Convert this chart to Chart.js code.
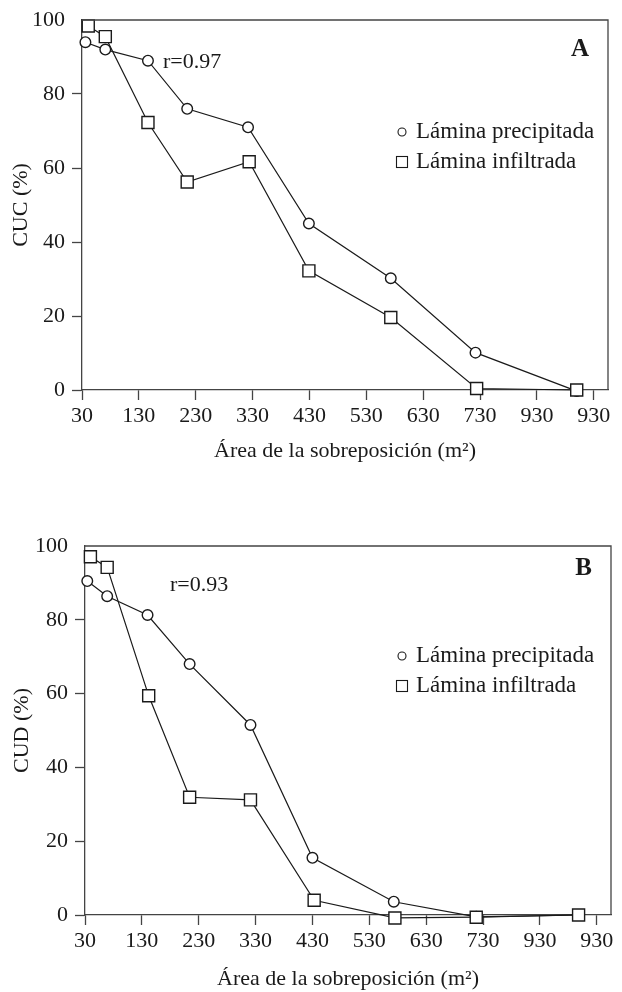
<!DOCTYPE html>
<html>
<head>
<meta charset="utf-8">
<script src="https://cdn.jsdelivr.net/npm/chart.js@4/dist/chart.umd.min.js"></script>
<style>
  html, body { margin: 0; padding: 0; background: #fff; }
  #wrap { position: relative; width: 622px; height: 992px; }
  .cv { position: absolute; left: 0; }
</style>
</head>
<body>
<div id="wrap">
  <div class="cv" style="top:0;width:622px;height:470px"><canvas id="chartA"></canvas></div>
  <div class="cv" style="top:490px;width:622px;height:502px"><canvas id="chartB"></canvas></div>
</div>
<script>
// ---- Data ----
const xTickValues = [30, 130, 230, 330, 430, 530, 630, 730, 830, 930];
const xTickLabels = ["30", "130", "230", "330", "430", "530", "630", "730", "930", "930"];
const yTickValues = [0, 20, 40, 60, 80, 100];

const seriesNames = ["Lámina precipitada", "Lámina infiltrada"];

// Panel A: CUC
const areaAPrec = [36, 71, 146, 215, 322, 429, 573, 722, 900];
const cucPrec   = [94, 92, 89, 76, 71, 45, 30.2, 10.1, -0.3];
const areaAInf  = [41, 71, 146, 215, 324, 429, 573, 724, 900];
const cucInf    = [98.4, 95.5, 72.3, 56.2, 61.7, 32.2, 19.6, 0.4, 0];

// Panel B: CUD
const areaBPrec = [34, 69, 140, 214, 321, 430, 573, 718, 898];
const cudPrec   = [90.5, 86.4, 81.3, 68, 51.5, 15.5, 3.6, -0.5, 0];
const areaBInf  = [39.5, 69, 142, 214, 321, 433, 575, 718, 898];
const cudInf    = [97.1, 94.2, 59.4, 31.9, 31.2, 4.0, -0.8, -0.6, 0];

const FONT = "'Liberation Serif', 'DejaVu Serif', serif";
const INK = '#1a1a1a';
const AXIS = '#444';

function toXY(xs, ys) { return xs.map((x, i) => ({ x: x, y: ys[i] })); }

function makeConfig(opts) {
  const decorPlugin = {
    id: 'decor',
    afterDraw(chart) {
      const ctx = chart.ctx;
      const a = chart.chartArea;
      ctx.save();
      // box top/right
      ctx.strokeStyle = AXIS;
      ctx.lineWidth = 1.3;
      ctx.beginPath();
      ctx.moveTo(a.left, a.top);
      ctx.lineTo(a.right, a.top);
      ctx.lineTo(a.right, a.bottom);
      ctx.stroke();
      // panel letter
      ctx.fillStyle = INK;
      ctx.font = 'bold 25px ' + FONT;
      ctx.textAlign = 'right';
      ctx.textBaseline = 'middle';
      ctx.fillText(opts.letter, a.right - 19, a.top + opts.letterDy);
      // r label
      ctx.font = '22px ' + FONT;
      ctx.textAlign = 'left';
      ctx.fillText(opts.rText, opts.rX, a.top + opts.rDy);
      // legend
      const lx = opts.legX, ly1 = a.top + opts.legDy, ly2 = ly1 + 30;
      ctx.strokeStyle = INK;
      ctx.lineWidth = 1.1;
      ctx.beginPath();
      ctx.arc(lx, ly1, 4, 0, Math.PI * 2);
      ctx.stroke();
      ctx.strokeRect(lx - 5.5, ly2 - 5.5, 11, 11);
      ctx.font = '23px ' + FONT;
      ctx.fillText(seriesNames[0], lx + 14, ly1);
      ctx.fillText(seriesNames[1], lx + 14, ly2);
      ctx.restore();
    }
  };

  const ds = (label, data, style, radius) => ({
    label: label,
    data: data,
    borderColor: INK,
    borderWidth: 1.2,
    backgroundColor: '#fff',
    pointStyle: style,
    pointRadius: radius,
    pointBorderWidth: 1.4,
    pointBorderColor: INK,
    pointBackgroundColor: '#fff',
    tension: 0,
    clip: false
  });

  return {
    type: 'line',
    data: {
      datasets: [
        ds(seriesNames[1], toXY(opts.xInf, opts.yInf), 'rect', 8.5),
        ds(seriesNames[0], toXY(opts.xPrec, opts.yPrec), 'circle', 5.3)
      ]
    },
    options: {
      responsive: true,
      maintainAspectRatio: false,
      animation: false,
      layout: { padding: { left: 0, right: opts.padRight, top: opts.padTop, bottom: 0 } },
      plugins: { legend: { display: false }, tooltip: { enabled: false } },
      scales: {
        x: {
          type: 'linear',
          min: 30,
          max: 955,
          afterBuildTicks: s => { s.ticks = xTickValues.map(v => ({ value: v })); },
          afterFit: s => { s.height = opts.xHeight; s.paddingLeft = 0; s.paddingRight = 0; },
          ticks: {
            autoSkip: false,
            maxRotation: 0,
            padding: 3,
            color: INK,
            font: { family: FONT, size: 22 },
            callback: (v) => { const i = xTickValues.indexOf(v); return i >= 0 ? xTickLabels[i] : ''; }
          },
          grid: { display: true, drawOnChartArea: false, drawTicks: true, tickLength: 10, tickColor: AXIS, tickWidth: 1.3 },
          border: { display: true, color: AXIS, width: 1.3 },
          title: {
            display: true,
            text: 'Área de la sobreposición (m²)',
            color: INK,
            font: { family: FONT, size: 22 },
            padding: { top: 0, bottom: opts.xTitlePad }
          }
        },
        y: {
          type: 'linear',
          min: 0,
          max: 100,
          afterBuildTicks: s => { s.ticks = yTickValues.map(v => ({ value: v })); },
          afterFit: s => { s.width = opts.yWidth; s.paddingTop = 0; s.paddingBottom = 0; },
          ticks: { padding: 7, color: INK, font: { family: FONT, size: 22 } },
          grid: {
            display: true, drawOnChartArea: false, drawTicks: true, tickLength: 10, tickWidth: 1.3,
            tickColor: c => (c.tick && c.tick.value === 100 ? 'rgba(0,0,0,0)' : AXIS)
          },
          border: { display: true, color: AXIS, width: 1.3 },
          title: {
            display: true,
            text: opts.yTitle,
            color: INK,
            font: { family: FONT, size: 22 },
            padding: { top: opts.yTitlePad, bottom: 0 }
          }
        }
      }
    },
    plugins: [decorPlugin]
  };
}

new Chart(document.getElementById('chartA'), makeConfig({
  xPrec: areaAPrec, yPrec: cucPrec, xInf: areaAInf, yInf: cucInf,
  yTitle: 'CUC (%)', letter: 'A', letterDy: 30, rText: 'r=0.97', rX: 163, rDy: 42,
  legX: 402, legDy: 112,
  padTop: 20, padRight: 14, yWidth: 82, xHeight: 80, xTitlePad: 6, yTitlePad: 8
}));

new Chart(document.getElementById('chartB'), makeConfig({
  xPrec: areaBPrec, yPrec: cudPrec, xInf: areaBInf, yInf: cudInf,
  yTitle: 'CUD (%)', letter: 'B', letterDy: 23, rText: 'r=0.93', rX: 170, rDy: 39,
  legX: 402, legDy: 110,
  padTop: 56, padRight: 11, yWidth: 85, xHeight: 77, xTitlePad: 0, yTitlePad: 9
}));
</script>
</body>
</html>
